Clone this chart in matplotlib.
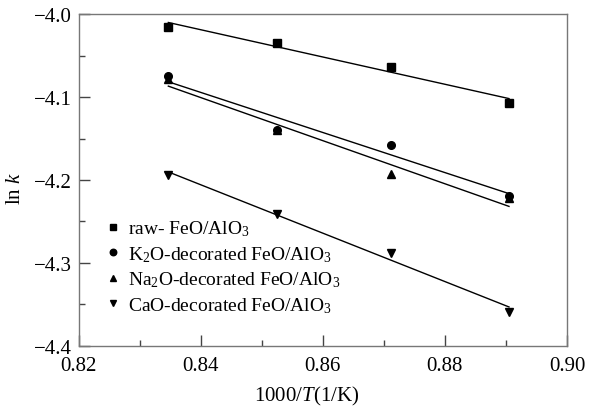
import numpy as np
import matplotlib
matplotlib.use("Agg")
import matplotlib.pyplot as plt

plt.rcParams["font.family"] = ["Liberation Serif", "DejaVu Serif"]
plt.rcParams["mathtext.fontset"] = "custom"
plt.rcParams["mathtext.rm"] = "Liberation Serif"
plt.rcParams["mathtext.it"] = "Liberation Serif:italic"

# 1000/T for 1198, 1173, 1148, 1123 K
inv_t = [0.8347, 0.8525, 0.8711, 0.8905]

raw = [-4.015, -4.035, -4.064, -4.107]
k2o = [-4.075, -4.140, -4.158, -4.219]
na2o = [-4.078, -4.140, -4.193, -4.222]
cao = [-4.194, -4.241, -4.288, -4.359]

labels = [
    "raw- FeO/AlO$_3$",
    "K$_2$O-decorated FeO/AlO$_3$",
    "Na$_2$O-decorated FeO/AlO$_3$",
    "CaO-decorated FeO/AlO$_3$",
]
markers = ["s", "o", "^", "v"]

fig = plt.figure(figsize=(6.0, 4.1), dpi=100)
ax = fig.add_axes([0.131, 0.154, 0.814, 0.809])

x = np.array(inv_t)
for ys, m, lab in zip([raw, k2o, na2o, cao], markers, labels):
    ax.plot(x, ys, linestyle="none", marker=m, color="black",
            markersize=5.5, label=lab)
    # linear fit (Arrhenius)
    p = np.polyfit(x, ys, 1)
    ax.plot(x[[0, -1]], np.polyval(p, x[[0, -1]]), color="black", lw=1.0)

ax.set_xlim(0.82, 0.90)
ax.set_ylim(-4.4, -4.0)
ax.set_xticks([0.82, 0.84, 0.86, 0.88, 0.90])
ax.set_xticks([0.83, 0.85, 0.87, 0.89], minor=True)
ax.set_yticks([-4.4, -4.3, -4.2, -4.1, -4.0])
ax.set_yticks([-4.35, -4.25, -4.15, -4.05], minor=True)
ax.xaxis.set_major_formatter(matplotlib.ticker.FormatStrFormatter("%.2f"))
ax.yaxis.set_major_formatter(
    matplotlib.ticker.FuncFormatter(lambda v, _: f"{v:.1f}".replace("-", "\u2212")))

ax.tick_params(which="both", direction="in", labelsize=15, color="#444444",
               top=False, right=False)
ax.tick_params(axis="x", which="both", pad=7)
ax.tick_params(axis="y", which="both", pad=5)
ax.tick_params(which="major", length=8, width=1.0)
ax.tick_params(which="minor", length=4, width=1.0)
for s in ax.spines.values():
    s.set_color("#777777")
    s.set_linewidth(1.0)

ax.set_xlabel("1000/$T$(1/K)", fontsize=15)
ax.set_ylabel("ln $k$", fontsize=15)
ax.xaxis.set_label_coords(0.468, -0.115)
ax.yaxis.set_label_coords(-0.11, 0.476)

ax.legend(loc="upper left", bbox_to_anchor=(0.028, 0.425), frameon=False,
          fontsize=14, handlelength=0.7, handletextpad=0.45,
          labelspacing=0.3, markerscale=0.85, borderaxespad=0.3)

fig.savefig("out.png", dpi=100)
